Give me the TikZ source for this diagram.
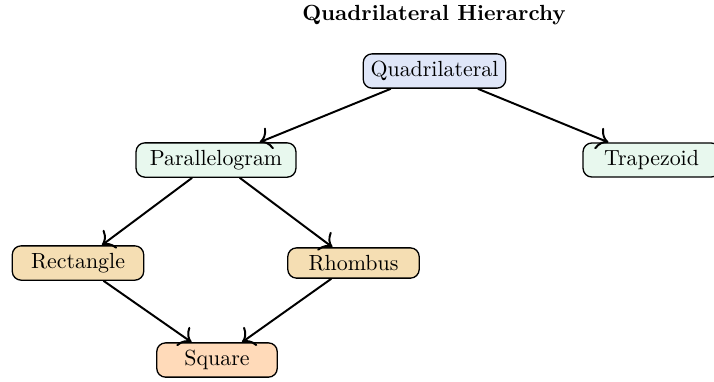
\documentclass[tikz,border=0pt]{standalone}
\usetikzlibrary{arrows.meta}
\definecolor{qblue}{HTML}{DFE6F8}
\definecolor{pgreen}{HTML}{E8F8EE}
\definecolor{rtan}{HTML}{F5DEB3}
\definecolor{speach}{HTML}{FFDAB9}
\begin{document}
\begin{tikzpicture}[x=0.4566pt,y=-0.4566pt,
  box/.style={draw, rounded corners=4pt, semithick, inner sep=3.33pt},
  link/.style={-{To[scale=1.4]}, line width=0.9pt}]
\useasboundingbox (0,0) rectangle (714,381);
\node[font=\bfseries] (title) at (434,15) {Quadrilateral Hierarchy};
\node[box, fill=qblue] (quad) at (434.5,71) {Quadrilateral};
\node[box, fill=pgreen, minimum width=73pt] (para) at (216,160) {Parallelogram};
\node[box, fill=pgreen, minimum width=62.5pt] (trap) at (651.5,160) {Trapezoid};
\node[box, fill=rtan, minimum width=60pt] (rect) at (78,263) {Rectangle};
\node[box, fill=rtan, minimum width=60pt] (rhom) at (353.5,263) {Rhombus};
\node[box, fill=speach, minimum width=55pt] (sq) at (217,360) {Square};
\draw[link] (quad) -- (para);
\draw[link] (quad) -- (trap);
\draw[link] (para) -- (rect);
\draw[link] (para) -- (rhom);
\draw[link] (rect) -- (sq);
\draw[link] (rhom) -- (sq);
\end{tikzpicture}
\end{document}
